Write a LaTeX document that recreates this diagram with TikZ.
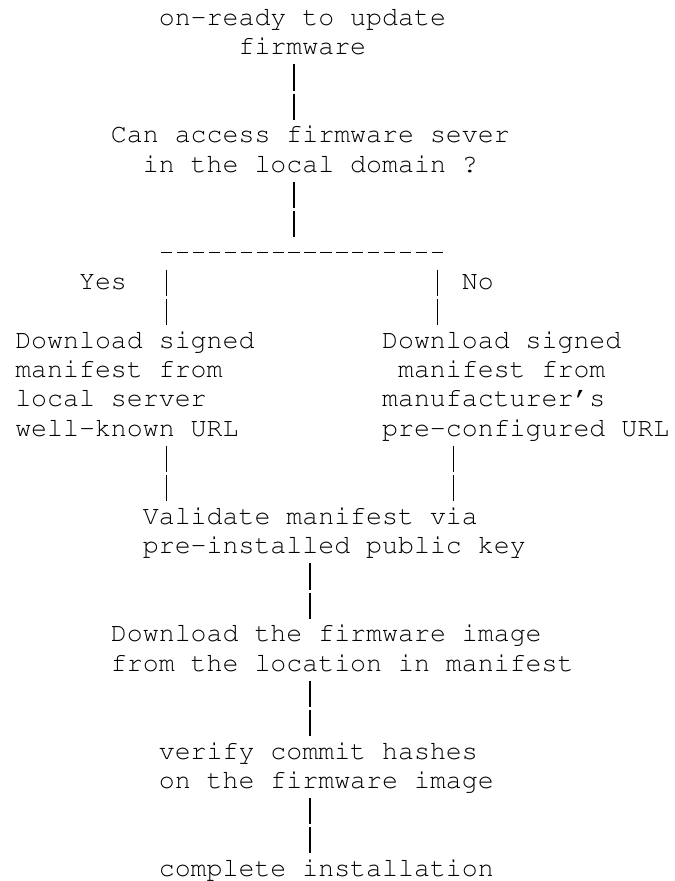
\documentclass[tikz,border=0pt]{standalone}
\usepackage{tikz}
\newcommand\ascfont{\fontencoding{T1}\fontfamily{pcr}\fontsize{19.94pt}{22.01pt}\selectfont\frenchspacing}

\begin{document}
\begin{tikzpicture}[x=11.9625pt,y=-22.0125pt,font=\ascfont,
    txt/.style={anchor=base west,inner sep=0pt,text height=16.09pt,text depth=5.92pt},
    bar/.style={line width=1.1pt,dash pattern=on 19.875pt off 2.14pt,shorten <=1.05pt,shorten >=1.05pt},
    hyph/.style={line width=1.1pt,dash pattern=on 8.4pt off 3.5625pt,shorten <=1.73pt}]
    \useasboundingbox (-0.9404,-0.862) rectangle (41.317,29.155);
    % start
    \node[txt] (rdy1) at (9,0) {on-ready to update};
    \node[txt] (rdy2) at (14,1) {firmware};
    \node[txt] (can1) at (6,4) {Can access firmware sever};
    \node[txt] (can2) at (8,5) {in the local domain ?};
    \node[txt,minimum width=215.325pt] (split) at (9,8) {};
    \node[txt] (yes) at (4,9) {Yes};
    \node[txt] (no) at (28,9) {No};
    % two branches
    \node[txt] (loc1) at (0,11) {Download signed};
    \node[txt] (loc2) at (0,12) {manifest from};
    \node[txt] (loc3) at (0,13) {local server};
    \node[txt] (loc4) at (0,14) {well-known URL};
    \node[txt] (mfr1) at (23,11) {Download signed};
    \node[txt] (mfr2) at (24,12) {manifest from};
    \node[txt] (mfr3) at (23,13) {manufacturer's};
    \node[txt] (mfr4) at (23,14) {pre-configured URL};
    % common steps
    \node[txt] (val1) at (8,17) {Validate manifest via};
    \node[txt] (val2) at (8,18) {pre-installed public key};
    \node[txt] (img1) at (6,21) {Download the firmware image};
    \node[txt] (img2) at (6,22) {from the location in manifest};
    \node[txt] (vfy1) at (9,25) {verify commit hashes};
    \node[txt] (vfy2) at (9,26) {on the firmware image};
    \node[txt] (done) at (9,29) {complete installation};
    % connectors
    \draw[bar] (rdy2.south -| 17.5,0) -- (can1.north -| 17.5,0);
    \draw[bar] (can2.south -| 17.5,0) -- (split.north -| 17.5,0);
    \draw[hyph] ([yshift=5.85pt]split.base west) -- ([yshift=5.85pt]split.base east);
    \draw[bar] (split.south -| 9.5,0) -- (loc1.north -| 9.5,0);
    \draw[bar] (split.south -| 26.5,0) -- (mfr1.north -| 26.5,0);
    \draw[bar] (loc4.south -| 9.5,0) -- (val1.north -| 9.5,0);
    \draw[bar] (mfr4.south -| 27.5,0) -- (val1.north -| 27.5,0);
    \draw[bar] (val2.south -| 18.5,0) -- (img1.north -| 18.5,0);
    \draw[bar] (img2.south -| 18.5,0) -- (vfy1.north -| 18.5,0);
    \draw[bar] (vfy2.south -| 18.5,0) -- (done.north -| 18.5,0);
\end{tikzpicture}
\end{document}
